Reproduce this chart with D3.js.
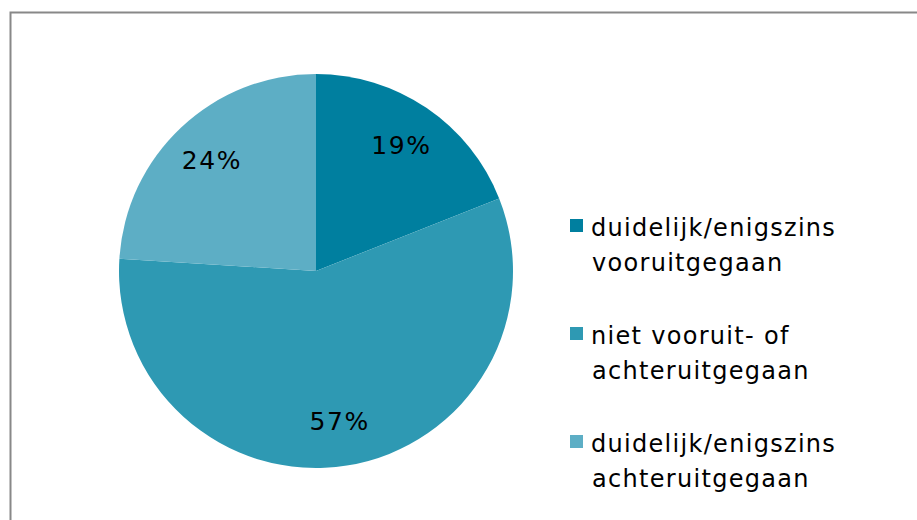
<!DOCTYPE html>
<html>
<head>
<meta charset="utf-8">
<script src="https://cdn.jsdelivr.net/npm/d3@7"></script>
<style>
  body { margin: 0; background: #fff; }
  svg { display: block; font-family: "DejaVu Sans", Verdana, sans-serif; }
</style>
</head>
<body>
<div id="chart"></div>
<script>
// data
var categories = ["duidelijk/enigszins vooruitgegaan", "niet vooruit- of achteruitgegaan", "duidelijk/enigszins achteruitgegaan"];
var legendLines = [["duidelijk/enigszins", "vooruitgegaan"], ["niet vooruit- of", "achteruitgegaan"], ["duidelijk/enigszins", "achteruitgegaan"]];
var values = [19, 57, 24];
var colors = ["#007f9f", "#2e99b3", "#5daec5"];

var width = 917, height = 520,
    cx = 316, cy = 271, radius = 197;

var svg = d3.select("#chart").append("svg")
    .attr("width", width)
    .attr("height", height);

// frame
svg.append("rect")
    .attr("x", 10.5).attr("y", 12.5)
    .attr("width", 920).attr("height", 540)
    .style("fill", "#fff")
    .style("stroke", "#888")
    .style("stroke-width", 2);

var pie = d3.pie().sort(null).value(d => d);
var arcs = pie(values);
var arc = d3.arc().innerRadius(0).outerRadius(radius);
var labelArc = d3.arc().innerRadius(152).outerRadius(152);

var g = svg.append("g").attr("transform", "translate(" + cx + "," + cy + ")");

g.selectAll(".slice")
    .data(arcs)
    .enter().append("path")
    .attr("class", "slice")
    .attr("d", arc)
    .style("fill", (d, i) => colors[i]);

g.selectAll(".pct")
    .data(arcs)
    .enter().append("text")
    .attr("class", "pct")
    .attr("transform", d => "translate(" + labelArc.centroid(d) + ")")
    .attr("text-anchor", "middle")
    .attr("dy", "0.35em")
    .style("font-size", "25px")
    .style("letter-spacing", "1.6px")
    .style("fill", "#000")
    .text(d => d.data + "%");

//legend
var legend = svg.append("g").attr("transform", "translate(570,0)");
categories.forEach(function(c, i) {
    var y0 = 219 + i * 108;
    legend.append("rect")
        .attr("x", 0).attr("y", y0)
        .attr("width", 13).attr("height", 13)
        .style("fill", colors[i]);
    var t = legend.append("text")
        .attr("x", 21).attr("y", y0 + 17)
        .style("font-size", "24px")
        .style("letter-spacing", "1.3px")
        .style("fill", "#000");
    legendLines[i].forEach(function(line, j) {
        t.append("tspan")
            .attr("x", j == 0 ? 21 : 22)
            .attr("dy", j == 0 ? 0 : 35)
            .text(line);
    });
});
</script>
</body>
</html>
